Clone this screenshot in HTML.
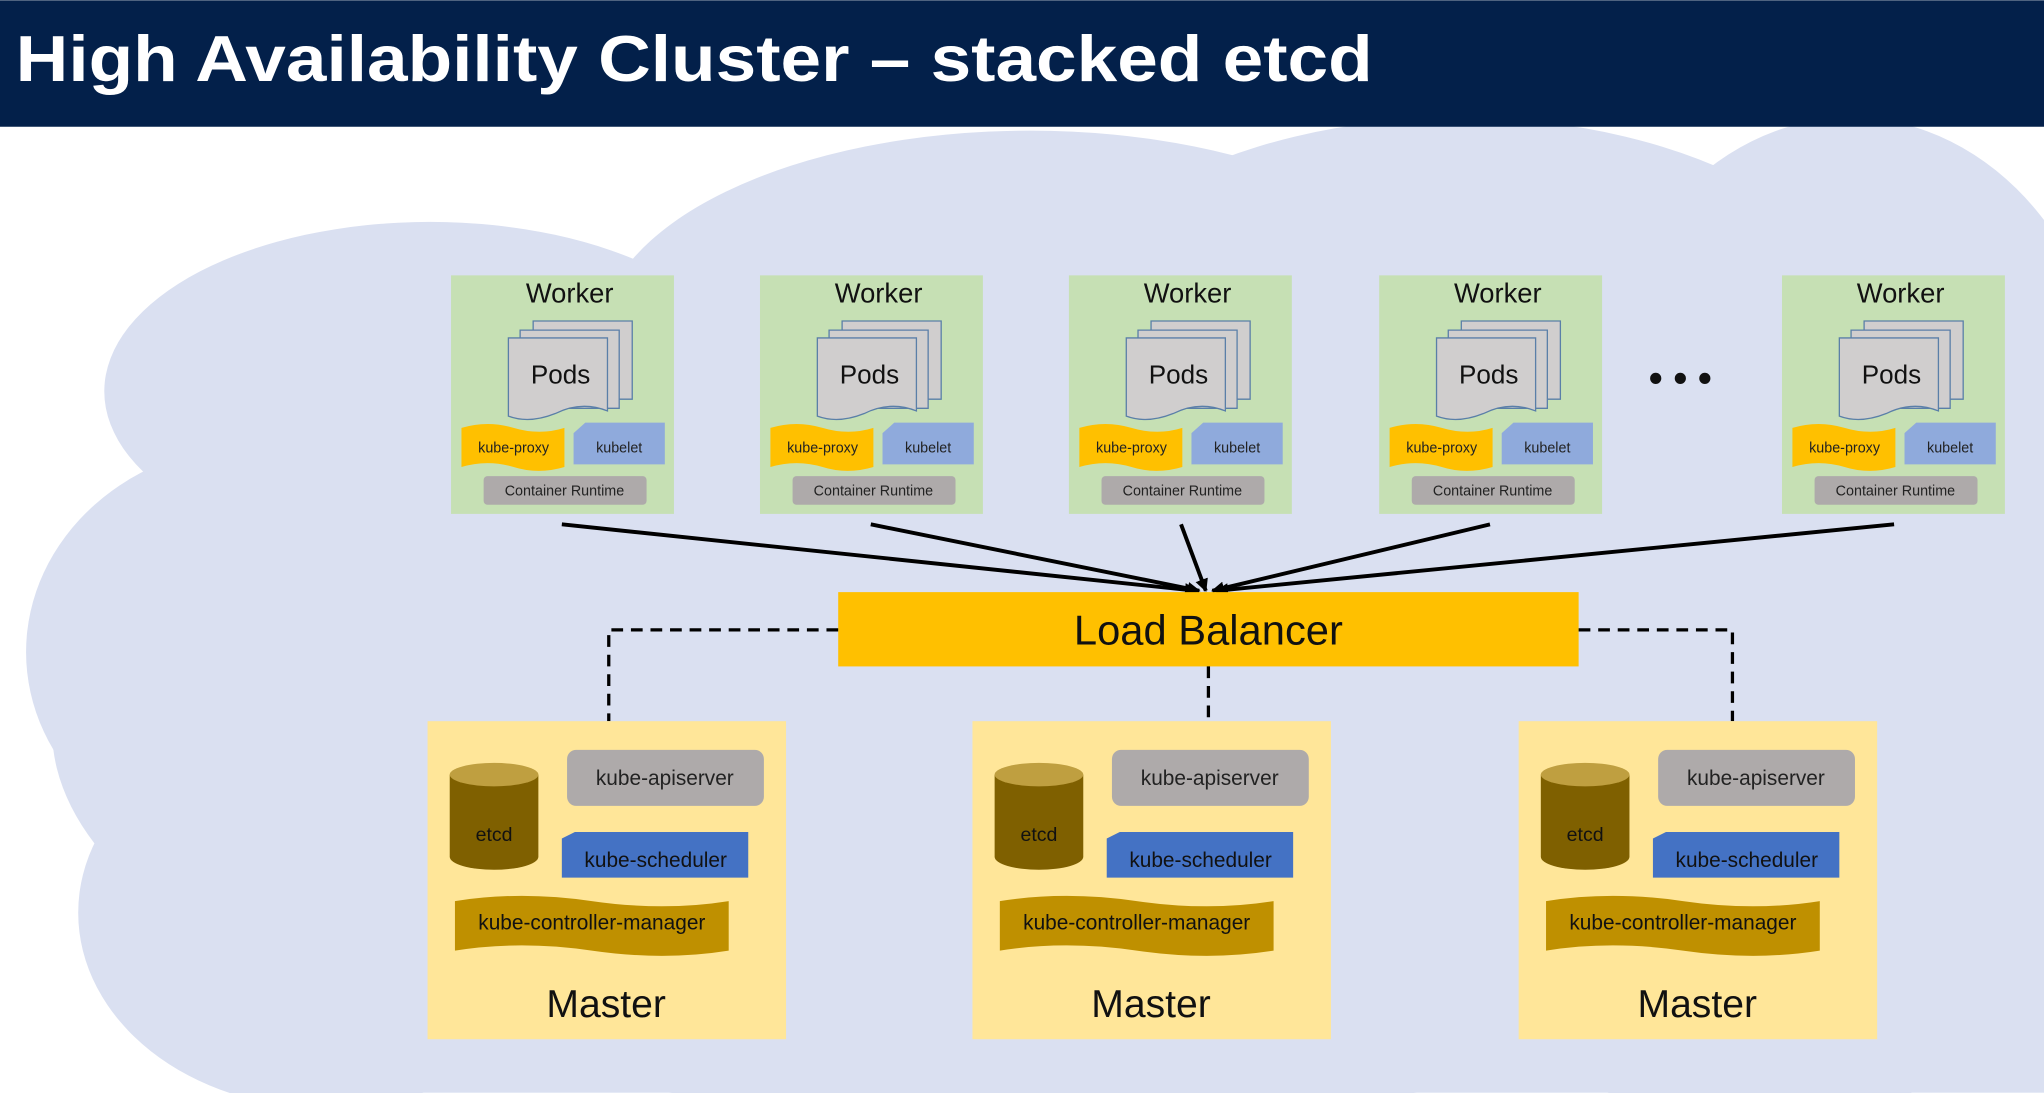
<!DOCTYPE html>
<html><head><meta charset="utf-8"><style>html,body{margin:0;padding:0;background:#fff}svg{display:block}text{font-family:"Liberation Sans","DejaVu Sans",sans-serif}</style></head>
<body>
<svg width="2044" height="1093" viewBox="0 0 1568 838" xmlns="http://www.w3.org/2000/svg">
<defs>
<marker id="ah" markerWidth="10" markerHeight="10" refX="9" refY="5" orient="auto" markerUnits="userSpaceOnUse"><path d="M0,0 L10,5 L0,10 z" fill="#000"/></marker>
<g id="worker">
<rect x="0" y="0" width="171" height="183" fill="#c6e0b4"/>
<text x="91" y="21" font-size="21" text-anchor="middle" fill="#111">Worker</text>
<path d="M63,35 h76 v60 h-76z" fill="#d0cece" stroke="#5a7fa8" stroke-width="1"/>
<path d="M53,42 h76 v60 h-76z" fill="#d0cece" stroke="#5a7fa8" stroke-width="1"/>
<path d="M44,48 h76 v56 q-20,-8 -40,2 q-20,8 -36,2 z" fill="#d0cece" stroke="#5a7fa8" stroke-width="1"/>
<text x="84" y="83" font-size="20" text-anchor="middle" fill="#111">Pods</text>
<path d="M8,117 q20,-6 40,0 q20,6 39,0 v30 q-20,6 -39,0 q-20,-6 -40,0 z" fill="#ffc000"/>
<text x="48" y="136" font-size="11" text-anchor="middle" fill="#222">kube-proxy</text>
<path d="M103,113 h61 v32 h-70 v-24 z" fill="#8faadc"/>
<text x="129" y="136" font-size="11" text-anchor="middle" fill="#222">kubelet</text>
<rect x="25" y="154" width="125" height="22" rx="3" fill="#aeaaaa"/>
<text x="87" y="169" font-size="11" text-anchor="middle" fill="#222">Container Runtime</text>
</g>
<g id="master">
<rect x="0" y="0" width="275" height="244" fill="#ffe699"/>
<path d="M17,41 v63 a34,10 0 0 0 68,0 v-63" fill="#7f6000"/>
<ellipse cx="51" cy="41" rx="34" ry="9" fill="#bf9f40"/>
<text x="51" y="92" font-size="15" text-anchor="middle" fill="#111">etcd</text>
<rect x="107" y="22" width="151" height="43" rx="7" fill="#aeaaaa"/>
<text x="182" y="49" font-size="16" text-anchor="middle" fill="#222">kube-apiserver</text>
<path d="M113,85 h133 v35 h-143 v-30 z" fill="#4472c4"/>
<text x="175" y="112" font-size="16" text-anchor="middle" fill="#111">kube-scheduler</text>
<path d="M21,138 q50,-8 105,0 q55,8 105,0 v38 q-50,8 -105,0 q-55,-8 -105,0 z" fill="#bf9000"/>
<text x="126" y="160" font-size="16" text-anchor="middle" fill="#111">kube-controller-manager</text>
<text x="137" y="227" font-size="30" text-anchor="middle" fill="#111">Master</text>
</g>
</defs>
<rect width="1568" height="838" fill="#fff"/>
<g fill="#dae0f1">
<ellipse cx="330" cy="300" rx="250" ry="130"/>
<ellipse cx="790" cy="260" rx="330" ry="160"/>
<ellipse cx="1120" cy="280" rx="330" ry="190"/>
<ellipse cx="1420" cy="330" rx="200" ry="240"/>
<ellipse cx="200" cy="500" rx="180" ry="160"/>
<ellipse cx="250" cy="700" rx="190" ry="150"/>
<ellipse cx="800" cy="560" rx="760" ry="300"/>
<ellipse cx="1350" cy="700" rx="230" ry="160"/>
<rect x="200" y="300" width="1368" height="538"/>
</g>
<rect width="1568" height="97" fill="#03204a"/>
<text x="12" y="62" font-size="50" font-weight="bold" fill="#fff" textLength="1041" lengthAdjust="spacingAndGlyphs">High Availability Cluster – stacked etcd</text>
<use href="#worker" x="346" y="211"/>
<use href="#worker" x="583" y="211"/>
<use href="#worker" x="820" y="211"/>
<use href="#worker" x="1058" y="211"/>
<use href="#worker" x="1367" y="211"/>
<text x="1289" y="300" font-size="30" text-anchor="middle" font-weight="bold" fill="#111">• • •</text>
<g stroke="#000" stroke-width="3" marker-end="url(#ah)">
<line x1="431" y1="402" x2="918" y2="453"/>
<line x1="668" y1="402" x2="920" y2="453"/>
<line x1="906" y1="402" x2="925" y2="453"/>
<line x1="1143" y1="402" x2="930" y2="453"/>
<line x1="1453" y1="402" x2="933" y2="453"/>
</g>
<rect x="643" y="454" width="568" height="57" fill="#ffc000"/>
<text x="927" y="494" font-size="32" text-anchor="middle" fill="#111">Load Balancer</text>
<g stroke="#000" stroke-width="2.5" stroke-dasharray="9,6" fill="none">
<path d="M643,483 H467 V553"/>
<path d="M927,511 V553"/>
<path d="M1211,483 H1329 V553"/>
</g>
<use href="#master" x="328" y="553"/>
<use href="#master" x="746" y="553"/>
<use href="#master" x="1165" y="553"/>
</svg>
</body></html>
